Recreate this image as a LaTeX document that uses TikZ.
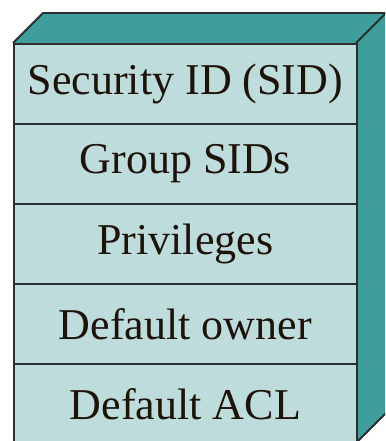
\documentclass[tikz,border=0pt]{standalone}
\usepackage{fontspec}
\setmainfont{Liberation Serif}
\definecolor{tealface}{RGB}{62,158,155}
\definecolor{frontface}{RGB}{190,220,220}
\definecolor{edge}{RGB}{45,45,45}
\begin{document}
\begin{tikzpicture}[x=1pt,y=-1pt,
  face/.style={draw=edge,line width=1.8pt,line join=round},
  row/.style={draw=edge,line width=1.8pt,fill=frontface,rectangle,minimum width=343pt,minimum height=80pt,inner sep=0pt,anchor=north west,font=\fontsize{44}{50}\selectfont,text=black!85!brown}]
\useasboundingbox (0,0) rectangle (385,441);
\clip (0,0) rectangle (385,441);
\fill[tealface] (13,43) -- (43,13) -- (386,13) -- (386,413) -- (356,443) -- (356,43) -- cycle;
\draw[face] (13,43) -- (43,13) -- (386,13);
\draw[face] (356,43) -- (386,13);
\draw[face] (356,443) -- (386,413);
\node[row] (r1) at (13,43) {Security ID (SID)};
\node[row] (r2) at (13,123) {Group SIDs};
\node[row] (r3) at (13,203) {Privileges};
\node[row] (r4) at (13,283) {Default owner};
\node[row] (r5) at (13,363) {Default ACL};
\end{tikzpicture}
\end{document}
